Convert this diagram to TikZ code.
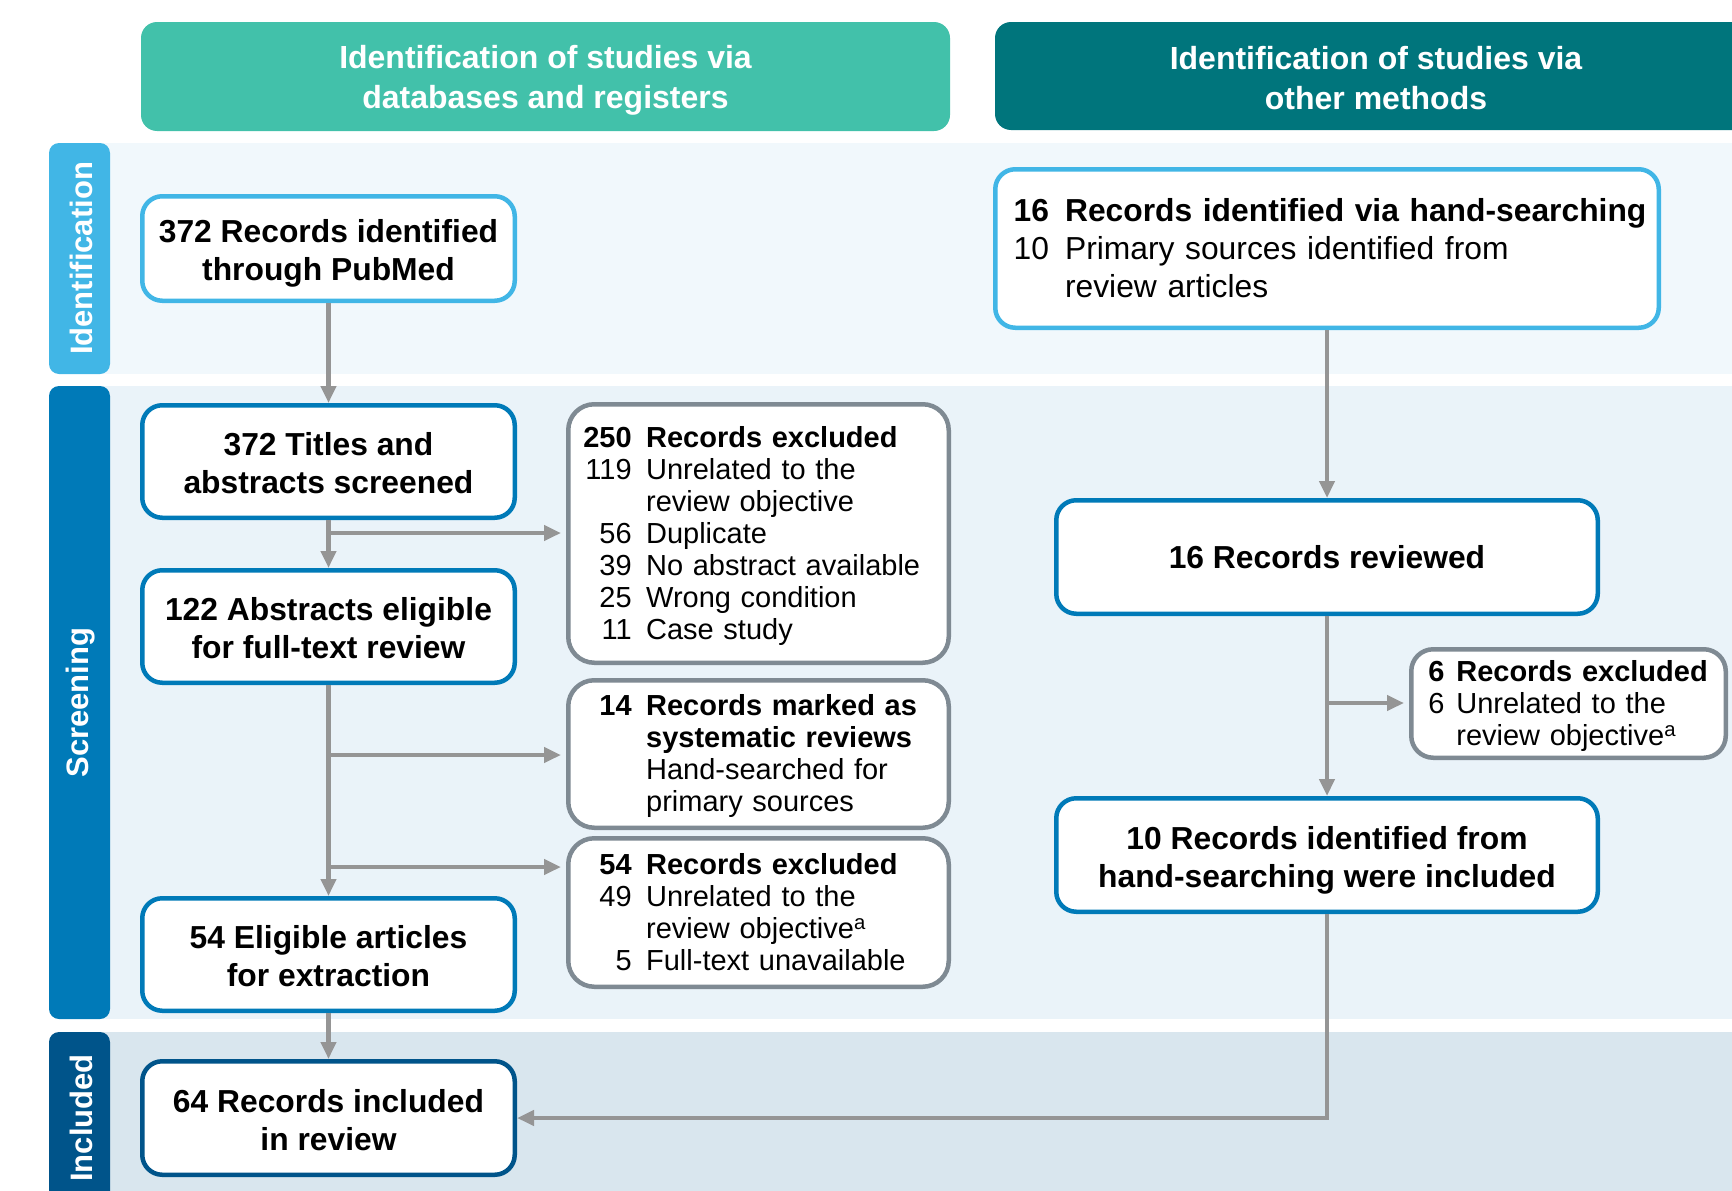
\documentclass[tikz,border=0pt]{standalone}
\usepackage{fontspec}
\setmainfont{Liberation Sans}
\usepackage{array}
\usepackage{tikz}
\usetikzlibrary{arrows.meta}
\usetikzlibrary{positioning}
\usetikzlibrary{calc}

\definecolor{headA}{HTML}{42C1AA}
\definecolor{headB}{HTML}{00757C}
\definecolor{tabId}{HTML}{41B6E6}
\definecolor{tabScr}{HTML}{007AB8}
\definecolor{tabInc}{HTML}{00548A}
\definecolor{bgId}{HTML}{F1F8FC}
\definecolor{bgScr}{HTML}{EAF3F9}
\definecolor{bgInc}{HTML}{D9E6EE}
\definecolor{boxGray}{HTML}{7F8A93}
\definecolor{arrGray}{HTML}{959595}

\newcolumntype{N}[1]{>{\raggedleft\arraybackslash}p{#1}}
\newcommand{\lift}[1]{\rule{0pt}{#1}}

\begin{document}
\begin{tikzpicture}[x=1pt,y=-1pt,
	bluebox/.style={draw=#1, line width=4.5pt, fill=white, rounded corners=20pt, inner sep=0pt,
		minimum width=372.5pt, minimum height=112.5pt, align=center,
		font=\fontsize{31.8}{38}\selectfont\bfseries},
	graybox/.style={draw=boxGray, line width=4.5pt, fill=white, rounded corners=26pt,
		inner xsep=15pt, inner ysep=0pt, align=left, font=\fontsize{29}{32}\selectfont},
	header/.style={fill=#1, rounded corners=16pt, inner sep=0pt, text=white, align=center,
		font=\fontsize{32}{40}\selectfont\bfseries},
	tab/.style={text=white, rotate=90, inner sep=0pt, font=\fontsize{31}{31}\selectfont\bfseries},
	arr/.style={draw=arrGray, line width=4.5pt, -{Triangle[length=17pt,width=15pt]}},
]
	\useasboundingbox (0,0) rectangle (1732,1191);

	%phase bands and tabs
	\foreach \i/\ytop/\ybot/\bg/\tc/\lab in {1/143/374/bgId/tabId/Identification,
		2/386/1019/bgScr/tabScr/Screening, 3/1032/1204/bgInc/tabInc/Included} {
		\fill[\bg] (100,\ytop) rectangle (1745,\ybot);
		\fill[\tc,rounded corners=10pt] (49,\ytop) rectangle (110,\ybot);
		\node[tab] (tab\i) at (81,{(\ytop+\ybot)/2}) {\lab};
	}

	%headers
	\node[header=headA, minimum width=809pt, minimum height=109pt] (headLeft) at (545.5,76.5)
		{\lift{31.7pt}Identification of studies via\\databases and registers};
	\node[header=headB, minimum width=762pt, minimum height=108pt] (headRight) at (1376,76)
		{\lift{27.3pt}Identification of studies via\\other methods};

	%databases column
	\node[bluebox=tabId, minimum height=104.5pt] (id1) at (328.5,248.5)
		{\lift{33pt}372 Records identified\\through PubMed};
	\node[bluebox=tabScr] (screened) at (328.5,461.5) {\lift{27pt}372 Titles and\\abstracts screened};
	\node[bluebox=tabScr] (eligible) at (328.5,626.5) {\lift{27pt}122 Abstracts eligible\\for full-text review};
	\node[bluebox=tabScr] (extraction) at (328.5,954.5) {\lift{27pt}54 Eligible articles\\for extraction};
	\node[bluebox=tabInc, minimum height=113.5pt] (included) at (328.5,1118)
		{\lift{27pt}64 Records included\\in review};

	%exclusions
	\node[graybox, minimum width=380.5pt, minimum height=258.5pt, text width=350.5pt] (excl250) at (758.5,533.5) {%
		\begin{tabular}{@{}N{48.4pt}@{\hspace{14.5pt}}l@{}}
			\lift{29pt}\textbf{250} & \textbf{Records excluded}\\
			119 & Unrelated to the\\
			    & review objective\\
			56 & Duplicate\\
			39 & No abstract available\\
			25 & Wrong condition\\
			11 & Case study
		\end{tabular}};
	\node[graybox, minimum width=380.5pt, minimum height=147.5pt, text width=350.5pt] (marked14) at (758.5,754) {%
		\begin{tabular}{@{}N{48.4pt}@{\hspace{14.5pt}}l@{}}
			\lift{29pt}\textbf{14} & \textbf{Records marked as}\\
			   & \textbf{systematic reviews}\\
			   & Hand-searched for\\
			   & primary sources
		\end{tabular}};
	\node[graybox, minimum width=380.5pt, minimum height=148.5pt, text width=350.5pt] (excl54) at (758.5,912.5) {%
		\begin{tabular}{@{}N{48.4pt}@{\hspace{14.5pt}}l@{}}
			\lift{29pt}\textbf{54} & \textbf{Records excluded}\\
			49 & Unrelated to the\\
			   & review objective\textsuperscript{a}\\
			5 & Full-text unavailable
		\end{tabular}};

	%other methods column
	\node[bluebox=tabId, minimum width=663.5pt, minimum height=158.5pt, text width=626.7pt,
		inner xsep=18.4pt, align=left, font=\fontsize{31.8}{38}\selectfont] (hand) at (1327,248.5) {%
		\begin{tabular}{@{}N{35.4pt}@{\hspace{16pt}}l@{}}
			\lift{33.2pt}\textbf{16} & \textbf{Records identified via hand-searching}\\
			10 & Primary sources identified from\\
			   & review articles
		\end{tabular}};
	\node[bluebox=tabScr, minimum width=541.5pt, minimum height=113.5pt] (reviewed) at (1327,557)
		{16 Records reviewed};
	\node[graybox, minimum width=314.5pt, minimum height=108.5pt, text width=280.5pt,
		inner xsep=17pt, rounded corners=22pt] (excl6) at (1568.5,703.5) {%
		\begin{tabular}{@{}N{16.1pt}@{\hspace{12pt}}l@{}}
			\lift{29pt}\textbf{6} & \textbf{Records excluded}\\
			6 & Unrelated to the\\
			  & review objective\textsuperscript{a}
		\end{tabular}};
	\node[bluebox=tabScr, minimum width=541.5pt, minimum height=113.5pt] (handinc) at (1327,855)
		{\lift{33pt}10 Records identified from\\hand-searching were included};

	%connectors
	\foreach \a/\b in {id1/screened, screened/eligible, eligible/extraction, extraction/included,
		hand/reviewed, reviewed/handinc}
		\draw[arr] (\a) -- (\b);

	\foreach \x/\y/\b in {328.5/533/excl250, 328.5/755/marked14, 328.5/867/excl54, 1327/703/excl6} {
		\coordinate (br\b) at (\x,\y);
		\draw[arr,shorten >=5pt] (br\b) -- (br\b -| \b.west);
	}

	\draw[arr] (handinc.south) |- (included.east);

\end{tikzpicture}
\end{document}
